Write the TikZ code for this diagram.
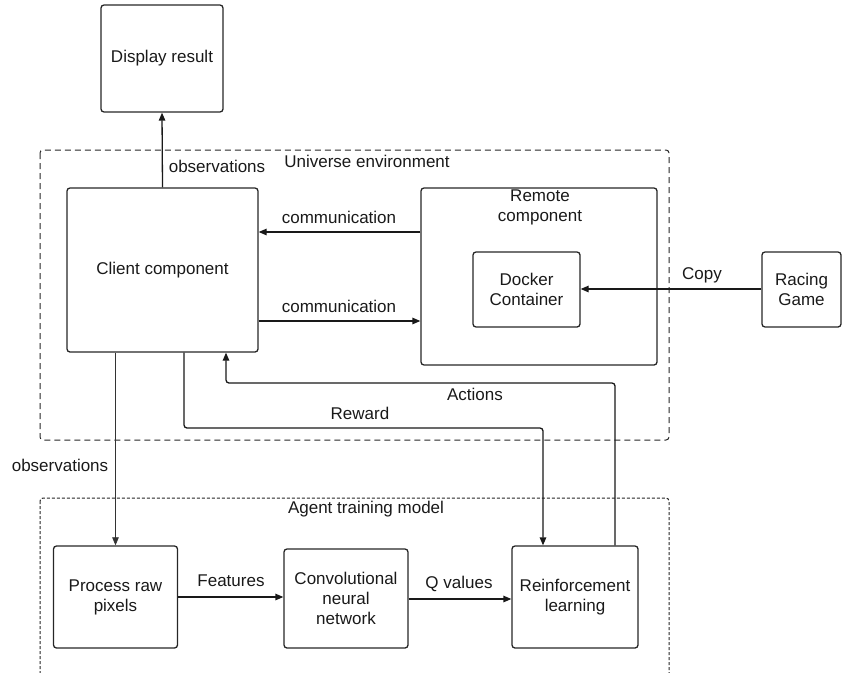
\documentclass[tikz,border=0pt]{standalone}
\usepackage{fontspec}
\setmainfont{Liberation Sans}
\usetikzlibrary{arrows.meta,calc}
\begin{document}
\begin{tikzpicture}[x=1pt,y=-1pt,
  txt/.style={font=\fontsize{17pt}{20pt}\selectfont,align=center,text=black!90},
  box/.style={txt,draw=black!85,line width=1.3pt,rounded corners=3pt,inner sep=0pt},
  lbl/.style={txt,inner sep=0pt},
  conn/.style={draw=black!90,line width=1.3pt,-{Triangle[length=8pt,width=6.5pt]}},
  thinconn/.style={draw=black!80,line width=0.7pt,-{Triangle[length=8pt,width=6.5pt]}},
  grp/.style={draw=black!85,line width=1pt,rounded corners=3pt,dash pattern=on 6pt off 4pt},
  grpfine/.style={draw=black!85,line width=1pt,rounded corners=3pt,dash pattern=on 3pt off 2pt},
]
\useasboundingbox (0,0) rectangle (846,672);

% group frames
\draw[grp] (40,150) rectangle (669,440);
\begin{scope}
  \clip (0,0) rectangle (846,672);
  \draw[grpfine] (40,498) rectangle (669,700);
\end{scope}

% boxes
\node[box,minimum width=122pt,minimum height=107pt] (display) at (162,58.5) {Display result};
\node[box,minimum width=191pt,minimum height=164pt] (client) at (162.5,270) {Client component};
\node[box,minimum width=236pt,minimum height=177pt] (remote) at (539,276.5) {};
\node[box,minimum width=107pt,minimum height=75pt] (docker) at (526.5,289.5) {Docker\\Container};
\node[box,minimum width=79pt,minimum height=75pt] (racing) at (801.5,289.5) {Racing\\Game};
\node[box,minimum width=124pt,minimum height=102pt] (proc) at (115.5,597) {Process raw\\pixels};
\node[box,minimum width=124pt,minimum height=99pt] (cnn) at (346,598.5) {Convolutional\\neural\\network};
\node[box,minimum width=126pt,minimum height=102pt] (rl) at (575,597) {Reinforcement\\learning};

% labels
\node[lbl] (uniLbl) at (367,161) {Universe environment};
\node[lbl] (agLbl) at (366,509) {Agent training model};
\node[lbl] (remLbl) at (540,207) {Remote\\component};
\node[lbl] (obsTop) at (217,166) {observations};
\node[lbl] (comm1) at (339,217) {communication};
\node[lbl] (comm2) at (339,306) {communication};
\node[lbl] (copyLbl) at (702,275) {Copy};
\node[lbl] (actLbl) at (475,394) {Actions};
\node[lbl] (rewLbl) at (360,413) {Reward};
\node[lbl] (obsLow) at (60,465) {observations};
\node[lbl] (featLbl) at (231,581) {Features};
\node[lbl] (qLbl) at (459,584) {Q values};

% helper coordinates
\coordinate (yc1) at (0,232);
\coordinate (yc2) at (0,321);
\coordinate (ycp) at (0,289);
\coordinate (xrw) at (184,0);
\coordinate (xac) at (226,0);
\coordinate (xrw2) at (543,0);
\coordinate (xac2) at (615,0);
\coordinate (yq) at (0,599);

% connectors
\draw[conn] (client.north) -- (display.south);
\draw[conn] (remote.west |- yc1) -- (client.east |- yc1);
\draw[conn] (client.east |- yc2) -- (remote.west |- yc2);
\draw[conn] (racing.west |- ycp) -- (docker.east |- ycp);
\draw[conn,rounded corners=3pt] (client.south -| xrw) -- (184,428) -- (543,428) -- (rl.north -| xrw2);
\draw[conn,rounded corners=3pt] (rl.north -| xac2) -- (615,383) -- (226,383) -- (client.south -| xac);
\draw[thinconn] (client.south -| proc.north) -- (proc.north);
\draw[conn] (proc.east) -- (cnn.west |- proc.east);
\draw[conn] (cnn.east |- yq) -- (rl.west |- yq);
\end{tikzpicture}
\end{document}
